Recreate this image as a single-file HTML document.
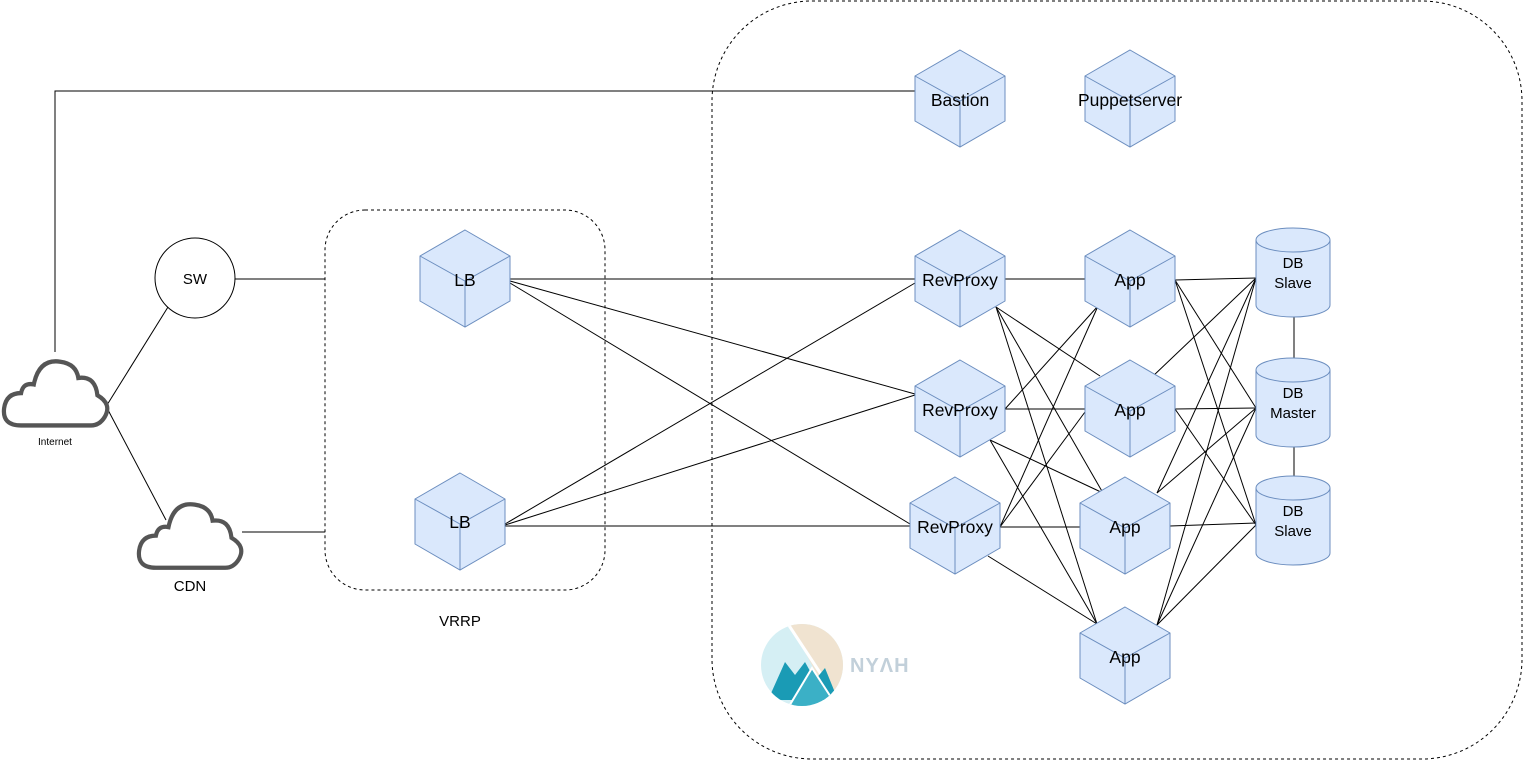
<!DOCTYPE html>
<html><head><meta charset="utf-8"><style>
html,body{margin:0;padding:0;background:#fff;}
svg{display:block;}
text{font-family:"Liberation Sans",sans-serif;fill:#000;}
.c{font-size:17.5px;}
</style></head><body>
<svg width="1526" height="761" viewBox="0 0 1526 761" xmlns="http://www.w3.org/2000/svg">
<defs>
<g id="cube">
<polygon points="0,-48 45,-22 45,23 0,49 -45,23 -45,-22" fill="#dae8fc" stroke="#6c8ebf" stroke-width="1"/>
<polyline points="-45,-22 0,3 45,-22" fill="none" stroke="#6c8ebf"/>
<line x1="0" y1="3" x2="0" y2="49" stroke="#6c8ebf"/>
</g>
<g id="cyl">
<path d="M0,12 A37,12 0 0 1 74,12 V77 A37,12 0 0 1 0,77 Z" fill="#dae8fc" stroke="#6c8ebf"/>
<path d="M0,12 A37,12 0 0 0 74,12" fill="none" stroke="#6c8ebf"/>
</g>
<path id="cloud" d="M18 68 Q0 68 2 52 Q4 38 18 38 Q20 28 30 30 Q35 6 55 9 Q70 11 72 24 Q88 22 90 40 Q104 48 97 60 Q92 68 84 68 Z" fill="#fff" stroke="#555" stroke-width="4"/>
</defs>
<rect x="712" y="1" width="810" height="758" rx="100" fill="none" stroke="#000" stroke-dasharray="3,3"/>
<rect x="325" y="210" width="280" height="380" rx="40" fill="none" stroke="#000" stroke-dasharray="3,3"/>
<g stroke="#000" stroke-width="1" fill="none">
<polyline points="55,352 55,91 915,91"/>
<line x1="235" y1="279" x2="325" y2="279"/>
<line x1="242" y1="532" x2="325" y2="532"/>
<line x1="107" y1="405" x2="168" y2="307"/>
<line x1="107" y1="408" x2="166" y2="520"/>
<line x1="510" y1="279" x2="915" y2="279"/>
<line x1="510" y1="281" x2="915" y2="394"/>
<line x1="510" y1="283" x2="910" y2="524"/>
<line x1="505" y1="524" x2="915" y2="283"/>
<line x1="505" y1="525" x2="915" y2="395"/>
<line x1="505" y1="526" x2="910" y2="526"/>
<line x1="1005" y1="279" x2="1085" y2="279"/>
<line x1="996" y1="307" x2="1100" y2="376"/>
<line x1="996" y1="307" x2="1103" y2="493"/>
<line x1="996" y1="307" x2="1097" y2="624"/>
<line x1="1005" y1="409" x2="1098" y2="306"/>
<line x1="1005" y1="409" x2="1085" y2="409"/>
<line x1="990" y1="440" x2="1103" y2="493"/>
<line x1="990" y1="440" x2="1097" y2="624"/>
<line x1="1000" y1="527" x2="1098" y2="306"/>
<line x1="1000" y1="527" x2="1085" y2="412"/>
<line x1="1000" y1="527" x2="1080" y2="527"/>
<line x1="988" y1="556" x2="1097" y2="624"/>
<line x1="1175" y1="280" x2="1256" y2="278"/>
<line x1="1175" y1="280" x2="1256" y2="408"/>
<line x1="1175" y1="280" x2="1256" y2="525"/>
<line x1="1152" y1="377" x2="1256" y2="278"/>
<line x1="1175" y1="409" x2="1256" y2="408"/>
<line x1="1175" y1="409" x2="1256" y2="525"/>
<line x1="1157" y1="493" x2="1256" y2="278"/>
<line x1="1157" y1="493" x2="1256" y2="408"/>
<line x1="1170" y1="526" x2="1256" y2="523"/>
<line x1="1157" y1="625" x2="1256" y2="278"/>
<line x1="1157" y1="625" x2="1256" y2="408"/>
<line x1="1157" y1="625" x2="1256" y2="525"/>
<line x1="1294" y1="317" x2="1294" y2="358" stroke="#555" stroke-width="1.5"/>
<line x1="1294" y1="447" x2="1294" y2="476" stroke="#555" stroke-width="1.5"/>
</g>
<circle cx="195" cy="278" r="40" fill="#fff" stroke="#000"/>
<text x="195" y="284" font-size="15" text-anchor="middle">SW</text>
<use href="#cloud" transform="translate(2,352) scale(1.06,1.08)"/>
<text x="55" y="445" font-size="10" text-anchor="middle">Internet</text>
<use href="#cloud" transform="translate(137,495) scale(1.05,1.07)"/>
<text x="190" y="591" font-size="15" text-anchor="middle">CDN</text>
<text x="460" y="626" font-size="15" text-anchor="middle">VRRP</text>
<use href="#cube" x="960" y="98"/><text class="c" x="960" y="106" text-anchor="middle">Bastion</text>
<use href="#cube" x="1130" y="98"/><text class="c" x="1130" y="106" text-anchor="middle">Puppetserver</text>
<use href="#cube" x="465" y="278"/><text class="c" x="465" y="286" text-anchor="middle">LB</text>
<use href="#cube" x="460" y="521"/><text class="c" x="460" y="528" text-anchor="middle">LB</text>
<use href="#cube" x="960" y="278"/><text class="c" x="960" y="286" text-anchor="middle">RevProxy</text>
<use href="#cube" x="960" y="408"/><text class="c" x="960" y="416" text-anchor="middle">RevProxy</text>
<use href="#cube" x="955" y="525"/><text class="c" x="955" y="533" text-anchor="middle">RevProxy</text>
<use href="#cube" x="1130" y="278"/><text class="c" x="1130" y="286" text-anchor="middle">App</text>
<use href="#cube" x="1130" y="408"/><text class="c" x="1130" y="416" text-anchor="middle">App</text>
<use href="#cube" x="1125" y="525"/><text class="c" x="1125" y="533" text-anchor="middle">App</text>
<use href="#cube" x="1125" y="655"/><text class="c" x="1125" y="663" text-anchor="middle">App</text>
<use href="#cyl" x="1256" y="228"/><text x="1293" y="268" font-size="15" text-anchor="middle">DB</text><text x="1293" y="288" font-size="15" text-anchor="middle">Slave</text>
<use href="#cyl" x="1256" y="358"/><text x="1293" y="398" font-size="15" text-anchor="middle">DB</text><text x="1293" y="418" font-size="15" text-anchor="middle">Master</text>
<use href="#cyl" x="1256" y="476"/><text x="1293" y="516" font-size="15" text-anchor="middle">DB</text><text x="1293" y="536" font-size="15" text-anchor="middle">Slave</text>
<g>
<clipPath id="lc"><circle cx="802" cy="665" r="41"/></clipPath>
<g clip-path="url(#lc)">
<rect x="760" y="624" width="84" height="84" fill="#d5eff4"/>
<polygon points="790,624 850,624 850,708 835,708" fill="#f0e3d0"/>
<line x1="788" y1="624" x2="838" y2="700" stroke="#fff" stroke-width="3"/>
<polygon points="768,700 785,662 795,675 805,662 815,680 825,668 838,700" fill="#1a9bb5"/>
<polygon points="788,708 812,668 838,708" fill="#3bb0c6" stroke="#fff" stroke-width="2"/>
</g>
<text x="850" y="672" font-size="20" font-weight="bold" style="fill:#c2d0da;letter-spacing:1px">NYΛH</text>
</g>
</svg>
</body></html>
